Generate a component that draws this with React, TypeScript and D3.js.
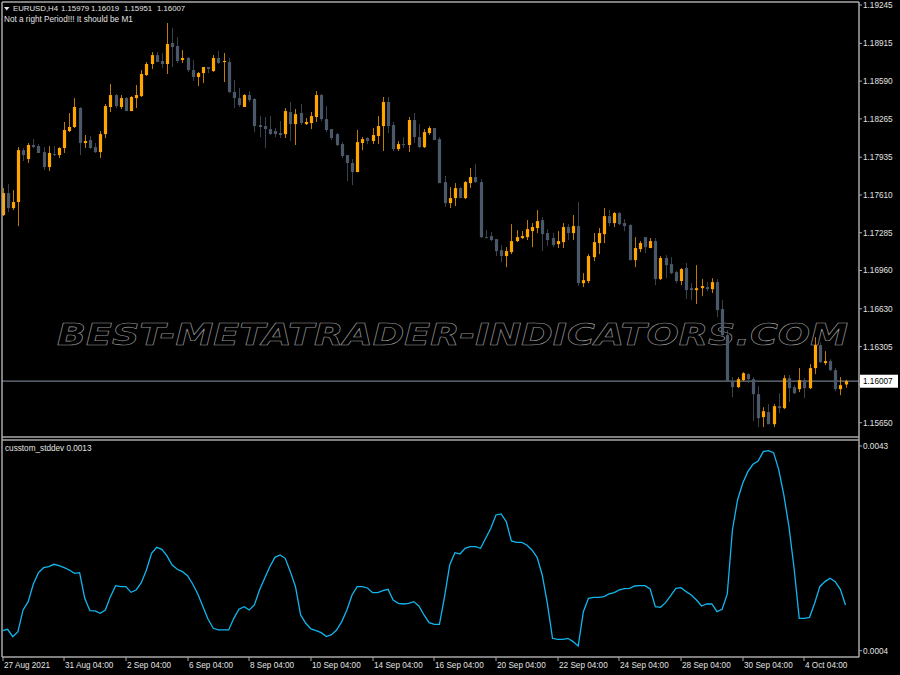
import * as d3 from "d3";

// EURUSD H4 bars: [open, high, low, close]
const ohlc: number[][] = [
  [1.17437, 1.17669, 1.17428, 1.17626],
  [1.17626, 1.17704, 1.17463, 1.17497],
  [1.17497, 1.17652, 1.1748, 1.17549],
  [1.17549, 1.18022, 1.17342, 1.17996],
  [1.17996, 1.18014, 1.17902, 1.17953],
  [1.17919, 1.18057, 1.17885, 1.1804],
  [1.1804, 1.18091, 1.18014, 1.18022],
  [1.18031, 1.18048, 1.17971, 1.17971],
  [1.17979, 1.18022, 1.17824, 1.1785],
  [1.1785, 1.18031, 1.17816, 1.17971],
  [1.17962, 1.18031, 1.17945, 1.17953],
  [1.17953, 1.18022, 1.17928, 1.18014],
  [1.18014, 1.18238, 1.17971, 1.18169],
  [1.1816, 1.18315, 1.18151, 1.18195],
  [1.18195, 1.18444, 1.18186, 1.18367],
  [1.18358, 1.18367, 1.17953, 1.18057],
  [1.18057, 1.18126, 1.18014, 1.18074],
  [1.18083, 1.18117, 1.18005, 1.18014],
  [1.18022, 1.18057, 1.17971, 1.17979],
  [1.17979, 1.1816, 1.17928, 1.18134],
  [1.18134, 1.18393, 1.181, 1.18375],
  [1.18367, 1.18565, 1.18324, 1.1847],
  [1.1847, 1.18479, 1.18358, 1.18375],
  [1.18367, 1.1847, 1.1835, 1.18444],
  [1.18444, 1.18453, 1.18332, 1.18332],
  [1.18332, 1.18461, 1.18332, 1.18453],
  [1.18444, 1.18556, 1.18358, 1.1847],
  [1.18461, 1.18685, 1.18453, 1.18651],
  [1.18642, 1.18754, 1.18634, 1.18737],
  [1.18737, 1.1884, 1.18694, 1.18814],
  [1.18814, 1.1884, 1.18754, 1.18754],
  [1.18763, 1.18832, 1.18703, 1.18737],
  [1.18737, 1.1909, 1.18651, 1.18909],
  [1.18918, 1.19047, 1.18711, 1.18883],
  [1.18892, 1.18969, 1.18746, 1.18763],
  [1.18771, 1.18857, 1.18746, 1.18789],
  [1.18789, 1.18797, 1.18668, 1.18685],
  [1.18685, 1.18771, 1.18591, 1.18625],
  [1.18625, 1.18668, 1.18548, 1.18659],
  [1.18659, 1.18711, 1.18573, 1.18711],
  [1.18711, 1.18711, 1.18659, 1.18694],
  [1.18677, 1.18814, 1.18668, 1.18789],
  [1.18789, 1.18849, 1.18737, 1.18746],
  [1.18754, 1.18832, 1.18582, 1.18763],
  [1.18754, 1.18789, 1.18487, 1.18496],
  [1.18496, 1.18599, 1.18358, 1.18444],
  [1.18444, 1.1853, 1.18367, 1.18384],
  [1.18367, 1.18479, 1.18367, 1.1847],
  [1.1847, 1.18504, 1.1841, 1.18427],
  [1.18436, 1.18444, 1.18151, 1.18203],
  [1.18212, 1.18289, 1.18108, 1.18195],
  [1.18203, 1.18281, 1.18014, 1.18177],
  [1.18177, 1.18289, 1.18126, 1.18134],
  [1.1816, 1.18186, 1.18108, 1.18134],
  [1.18143, 1.18246, 1.181, 1.18126],
  [1.18134, 1.18358, 1.181, 1.18332],
  [1.18324, 1.1841, 1.18074, 1.1822],
  [1.1822, 1.1835, 1.1804, 1.18306],
  [1.18315, 1.18393, 1.18212, 1.18229],
  [1.1822, 1.18272, 1.18212, 1.18238],
  [1.18229, 1.18324, 1.18177, 1.18289],
  [1.18281, 1.18504, 1.18238, 1.1847],
  [1.1847, 1.18479, 1.18246, 1.18263],
  [1.18263, 1.18375, 1.18151, 1.18169],
  [1.18177, 1.18177, 1.18083, 1.181],
  [1.18134, 1.18143, 1.18031, 1.1804],
  [1.18048, 1.18065, 1.17928, 1.17945],
  [1.17953, 1.17953, 1.1773, 1.17885],
  [1.17885, 1.17919, 1.17695, 1.17807],
  [1.17807, 1.18169, 1.17807, 1.18065],
  [1.18057, 1.18108, 1.17996, 1.18091],
  [1.181, 1.18108, 1.18048, 1.18074],
  [1.18074, 1.18186, 1.18048, 1.18126],
  [1.18117, 1.18289, 1.18048, 1.18203],
  [1.18203, 1.18453, 1.17988, 1.1841],
  [1.1841, 1.18453, 1.18143, 1.18203],
  [1.18212, 1.18238, 1.17988, 1.18005],
  [1.18005, 1.18074, 1.17988, 1.18048],
  [1.18048, 1.18108, 1.18014, 1.1804],
  [1.1804, 1.18281, 1.17979, 1.18255],
  [1.18255, 1.18315, 1.18057, 1.18108],
  [1.18108, 1.1822, 1.18014, 1.18022],
  [1.18022, 1.18177, 1.18014, 1.18151],
  [1.18143, 1.18203, 1.18126, 1.18186],
  [1.18186, 1.18186, 1.18083, 1.18083],
  [1.18091, 1.18108, 1.17712, 1.17712],
  [1.17721, 1.17773, 1.17506, 1.1754],
  [1.1754, 1.17678, 1.17497, 1.17583],
  [1.17583, 1.17712, 1.17514, 1.17669],
  [1.17669, 1.17678, 1.17583, 1.17583],
  [1.17583, 1.1773, 1.17575, 1.17721],
  [1.17712, 1.17842, 1.17669, 1.17764],
  [1.17764, 1.17876, 1.17712, 1.17721],
  [1.17721, 1.17747, 1.17239, 1.17247],
  [1.17247, 1.17308, 1.17239, 1.17239],
  [1.17256, 1.1729, 1.17213, 1.17222],
  [1.1723, 1.1723, 1.17084, 1.17127],
  [1.17135, 1.17179, 1.17032, 1.17084],
  [1.17084, 1.17161, 1.16989, 1.17127],
  [1.17118, 1.17359, 1.17101, 1.17213],
  [1.17213, 1.17308, 1.17204, 1.17247],
  [1.17239, 1.17299, 1.1723, 1.17256],
  [1.17247, 1.17394, 1.17222, 1.17316],
  [1.17299, 1.17368, 1.17161, 1.17334],
  [1.17325, 1.1748, 1.17282, 1.17385],
  [1.17394, 1.1742, 1.17127, 1.17273],
  [1.17282, 1.17316, 1.1717, 1.17222],
  [1.17239, 1.17282, 1.17161, 1.17179],
  [1.17187, 1.17299, 1.17153, 1.17213],
  [1.17204, 1.17368, 1.17153, 1.17334],
  [1.17334, 1.17359, 1.17222, 1.17282],
  [1.17282, 1.17437, 1.17222, 1.17342],
  [1.17342, 1.17549, 1.16826, 1.16851],
  [1.16851, 1.16937, 1.16817, 1.16877],
  [1.16869, 1.17101, 1.16851, 1.17084],
  [1.17075, 1.17282, 1.17041, 1.17204],
  [1.17196, 1.17325, 1.17101, 1.17282],
  [1.17273, 1.17497, 1.17196, 1.17428],
  [1.17428, 1.1748, 1.17342, 1.17368],
  [1.17368, 1.17463, 1.17334, 1.17454],
  [1.17454, 1.17463, 1.17351, 1.17359],
  [1.17368, 1.17402, 1.17299, 1.17342],
  [1.17351, 1.17359, 1.17049, 1.17049],
  [1.17049, 1.17247, 1.16989, 1.17153],
  [1.17144, 1.17213, 1.17118, 1.17196],
  [1.17247, 1.17247, 1.1711, 1.17161],
  [1.17153, 1.17239, 1.17153, 1.17213],
  [1.17213, 1.17239, 1.16834, 1.16886],
  [1.16886, 1.17084, 1.16877, 1.17067],
  [1.17067, 1.17092, 1.16894, 1.17006],
  [1.17015, 1.17075, 1.16929, 1.16937],
  [1.16946, 1.16955, 1.16851, 1.16869],
  [1.16869, 1.16981, 1.16834, 1.16972],
  [1.16981, 1.17024, 1.16714, 1.16791],
  [1.16808, 1.16851, 1.16705, 1.16791],
  [1.16791, 1.17006, 1.16671, 1.16808],
  [1.16808, 1.16886, 1.16739, 1.16826],
  [1.16817, 1.1686, 1.16782, 1.168],
  [1.168, 1.16894, 1.16765, 1.1686],
  [1.1686, 1.16886, 1.16559, 1.16619],
  [1.16628, 1.16705, 1.16386, 1.16404],
  [1.16404, 1.16447, 1.15999, 1.16008],
  [1.16008, 1.16042, 1.1587, 1.15956],
  [1.15956, 1.16042, 1.15947, 1.16025],
  [1.16016, 1.16085, 1.16008, 1.16076],
  [1.16068, 1.16076, 1.1599, 1.16025],
  [1.16025, 1.16042, 1.15663, 1.15896],
  [1.15896, 1.15965, 1.15612, 1.15689],
  [1.15698, 1.15784, 1.15612, 1.15749],
  [1.15741, 1.1581, 1.15637, 1.15637],
  [1.15637, 1.1581, 1.15612, 1.15792],
  [1.15792, 1.15904, 1.15732, 1.15775],
  [1.15775, 1.16059, 1.15767, 1.16033],
  [1.16033, 1.16059, 1.15827, 1.15947],
  [1.15956, 1.15973, 1.15896, 1.15904],
  [1.15939, 1.1612, 1.15913, 1.16016],
  [1.16016, 1.16033, 1.15861, 1.15947],
  [1.15947, 1.16154, 1.15939, 1.1612],
  [1.1612, 1.16386, 1.16068, 1.16318],
  [1.16318, 1.16343, 1.16163, 1.16171],
  [1.16163, 1.16266, 1.16145, 1.1618],
  [1.1618, 1.16197, 1.16094, 1.16102],
  [1.16102, 1.1612, 1.15921, 1.15939],
  [1.15939, 1.16042, 1.15887, 1.15973],
  [1.15979, 1.16019, 1.15951, 1.16007],
];

// custom std dev indicator, one value per bar
const stddev = [
  0.000782, 0.000808, 0.000668, 0.000763, 0.001176, 0.001335, 0.001671, 0.001887, 0.001982, 0.002001,
  0.002046, 0.00202, 0.001982, 0.001938, 0.001874, 0.001887, 0.001398, 0.001163, 0.001157, 0.001112,
  0.001176, 0.00143, 0.001639, 0.00162, 0.00162, 0.001512, 0.001557, 0.001697, 0.001938, 0.002255,
  0.00237, 0.002332, 0.002205, 0.002033, 0.001951, 0.001906, 0.00183, 0.001671, 0.001481, 0.001239,
  0.000998, 0.000827, 0.000795, 0.000795, 0.000795, 0.001017, 0.001189, 0.001239, 0.001176, 0.001271,
  0.001557, 0.001779, 0.002001, 0.002179, 0.002224, 0.00216, 0.001906, 0.00162, 0.001081, 0.000922,
  0.000814, 0.000782, 0.000744, 0.000668, 0.000706, 0.000795, 0.000954, 0.001176, 0.001462, 0.00162,
  0.00162, 0.001595, 0.001506, 0.001506, 0.001544, 0.00157, 0.001366, 0.001303, 0.00129, 0.001303,
  0.001335, 0.001252, 0.001081, 0.000935, 0.000903, 0.000903, 0.00143, 0.002033, 0.002268, 0.002243,
  0.002351, 0.002382, 0.002382, 0.002351, 0.002541, 0.002732, 0.002986, 0.003005, 0.002859, 0.00249,
  0.002465, 0.002465, 0.002414, 0.002319, 0.002179, 0.001843, 0.001303, 0.000636, 0.000617, 0.000617,
  0.000636, 0.000573, 0.00049, 0.001144, 0.001398, 0.001417, 0.001417, 0.00143, 0.001481, 0.001506,
  0.001557, 0.001582, 0.001589, 0.001633, 0.001639, 0.001639, 0.001576, 0.001239, 0.001227, 0.001316,
  0.001449, 0.001589, 0.001601, 0.001525, 0.001462, 0.001366, 0.001252, 0.00129, 0.00129, 0.001144,
  0.001189, 0.001481, 0.0027, 0.003271, 0.003589, 0.003811, 0.003951, 0.004014, 0.004192, 0.004211,
  0.004173, 0.003856, 0.003367, 0.002763, 0.00197, 0.001017, 0.001017, 0.001036, 0.001303, 0.00162,
  0.001716, 0.001779, 0.001716, 0.00157, 0.00127,
];

const timeLabels = [
  "27 Aug 2021", "31 Aug 04:00", "2 Sep 04:00", "6 Sep 04:00", "8 Sep 04:00", "10 Sep 04:00",
  "14 Sep 04:00", "16 Sep 04:00", "20 Sep 04:00", "22 Sep 04:00", "24 Sep 04:00", "28 Sep 04:00",
  "30 Sep 04:00", "4 Oct 04:00",
];
const timeLabelBars = [0, 12, 24, 36, 48, 60, 72, 84, 96, 108, 120, 132, 144, 156];

const priceTicks = [
  1.19245, 1.18915, 1.1859, 1.18265, 1.17935, 1.1761, 1.17285, 1.1696, 1.1663, 1.16305, 1.1598, 1.1565,
];
const stdTicks = [0.0043, 0.0004];
const lastPrice = 1.16007;

const BULL = "#ffa500";
const BEAR = "#4b5869";
const FRAME = "#a9a9a9";
const TEXT = "#e2e2e2";
const FONT = "'Liberation Sans', Arial, sans-serif";

export default function App() {
  const left = 2;
  const right = 859;
  const mainTop = 2;
  const mainBottom = 437;
  const indTop = 440;
  const indBottom = 657;

  const x = d3.scaleLinear().domain([0, ohlc.length - 1]).range([2.5, 845.5]);
  const y = d3.scaleLinear().domain([1.1565, 1.19245]).range([422.7, 5]);
  const yi = d3.scaleLinear().domain([0.0004, 0.0043]).range([650.7, 446]);

  const line = d3
    .line<number>()
    .x((_, i) => x(i))
    .y((d) => yi(d));

  const header = ohlc[ohlc.length - 1].map((v) => v.toFixed(5));
  const headerX = [61, 91, 124, 157];

  // the bid label box hides the axis label sitting under it
  const visibleTicks = priceTicks.filter((p) => Math.abs(y(p) - y(lastPrice)) > 9);

  return (
    <svg
      width={900}
      height={675}
      style={{ position: "absolute", left: 0, top: 0, background: "#000" }}
      fontFamily={FONT}
    >
      <rect width={900} height={675} fill="#000" />
      <defs>
        <clipPath id="mainClip">
          <rect x={left} y={mainTop} width={right - left} height={mainBottom - mainTop} />
        </clipPath>
        <clipPath id="indClip">
          <rect x={left} y={indTop} width={right - left} height={indBottom - indTop} />
        </clipPath>
      </defs>

      {/* watermark */}
      <text
        x={57}
        y={345}
        fontFamily="'DejaVu Sans', sans-serif"
        fontSize={30}
        fontStyle="italic"
        fontWeight="bold"
        textLength={791}
        lengthAdjust="spacingAndGlyphs"
        fill="none"
        stroke="#999"
        strokeWidth={0.6}
      >
        BEST-METATRADER-INDICATORS.COM
      </text>

      {/* bid line */}
      <line x1={left} x2={right} y1={y(lastPrice)} y2={y(lastPrice)} stroke="#6f7985" strokeWidth={1.2} />

      {/* candles */}
      <g clipPath="url(#mainClip)">
        {ohlc.map(([o, h, l, c], i) => {
          const col = c >= o ? BULL : BEAR;
          const cx = Math.round(x(i)) + 0.5;
          const top = y(Math.max(o, c));
          const bh = Math.max(1, Math.abs(y(o) - y(c)));
          return (
            <g key={i}>
              <line x1={cx} x2={cx} y1={y(h)} y2={y(l)} stroke={col} strokeOpacity={0.75} strokeWidth={1} />
              <rect x={cx - 1.6} y={top} width={3.2} height={bh} fill={col} />
            </g>
          );
        })}
      </g>

      {/* indicator line */}
      <g clipPath="url(#indClip)">
        <path d={line(stddev) ?? ""} fill="none" stroke="#12b6ee" strokeWidth={1.3} />
      </g>

      {/* frames */}
      <g stroke={FRAME} strokeWidth={1.5} fill="none">
        <line x1={left} x2={right} y1={mainTop} y2={mainTop} />
        <line x1={left} x2={right} y1={mainBottom} y2={mainBottom} />
        <line x1={left} x2={right} y1={indTop} y2={indTop} />
        <line x1={left} x2={right} y1={indBottom} y2={indBottom} />
        <line x1={left} x2={left} y1={mainTop} y2={indBottom} />
        <line x1={right} x2={right} y1={mainTop} y2={indBottom} />
      </g>

      {/* price axis */}
      {priceTicks.map((p) => (
        <line key={p} x1={right} x2={right + 3} y1={y(p)} y2={y(p)} stroke={FRAME} />
      ))}
      {visibleTicks.map((p) => (
        <text key={p} x={863} y={y(p) + 3} fontSize={8.2} fill={TEXT}>
          {p.toFixed(5)}
        </text>
      ))}
      <rect x={860} y={y(lastPrice) - 6.5} width={38} height={13} fill="#fff" />
      <text x={863} y={y(lastPrice) + 3} fontSize={8.2} fill="#000">
        {lastPrice.toFixed(5)}
      </text>

      {/* indicator axis */}
      {stdTicks.map((v) => (
        <g key={v}>
          <line x1={right} x2={right + 3} y1={yi(v)} y2={yi(v)} stroke={FRAME} />
          <text x={863} y={yi(v) + 3} fontSize={8.2} fill={TEXT}>
            {v.toFixed(4)}
          </text>
        </g>
      ))}

      {/* time axis */}
      {timeLabels.map((t, k) => {
        const tx = Math.round(x(timeLabelBars[k]));
        return (
          <g key={t}>
            <line x1={tx} x2={tx} y1={indBottom} y2={indBottom + 4} stroke={FRAME} />
            <text x={tx + 1} y={668} fontSize={8.2} fill={TEXT}>
              {t}
            </text>
          </g>
        );
      })}

      {/* titles */}
      <path d="M4,7 L9.5,7 L6.75,10.5 Z" fill={TEXT} />
      <text y={11} fontSize={7.8} fill={TEXT}>
        <tspan x={13}>EURUSD,H4</tspan>
        {header.map((h, k) => (
          <tspan key={k} x={headerX[k]}>
            {h}
          </tspan>
        ))}
      </text>
      <text x={4} y={21.5} fontSize={8.2} fill={TEXT}>
        Not a right Period!!! It should be M1
      </text>
      <text x={5} y={451} fontSize={8.2} fill={TEXT}>
        {`cusstom_stddev ${stddev[stddev.length - 1].toFixed(4)}`}
      </text>
    </svg>
  );
}
